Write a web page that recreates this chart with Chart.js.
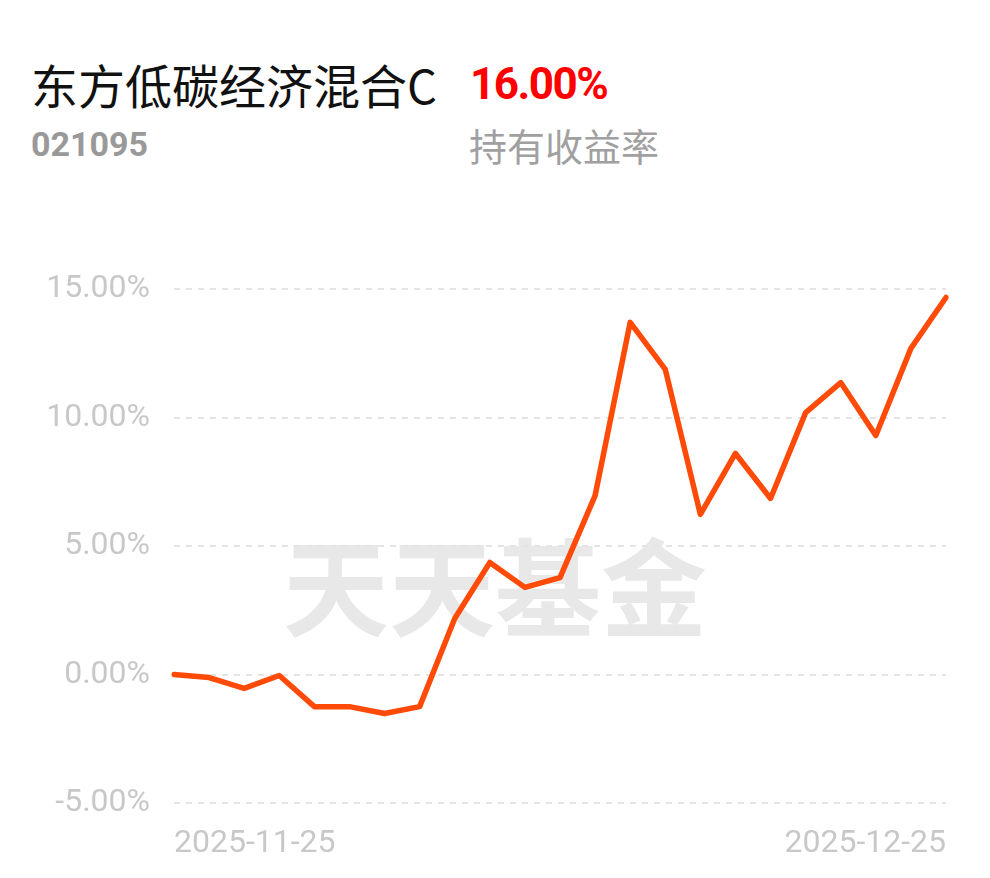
<!DOCTYPE html>
<html>
<head>
<meta charset="utf-8">
<script src="https://cdn.jsdelivr.net/npm/chart.js@4"></script>
<style>
    html, body { margin: 0; padding: 0; background: #fff; }
    #wrap { position: relative; width: 990px; height: 878px; overflow: hidden; }
    #chart { position: absolute; left: 0; top: 0; z-index: 2; }
    .txt { position: absolute; white-space: nowrap; font-family: Roboto, "Noto Sans CJK SC", sans-serif; }
    #name { left: 31px; top: 49px; font-size: 47px; color: #111; font-family: "Noto Sans CJK SC", sans-serif; }
    #ret { left: 470px; top: 58px; font-size: 44px; font-weight: bold; color: #f00; letter-spacing: -1.5px; }
    #code { left: 31px; top: 124px; font-size: 34px; font-weight: bold; color: #999; }
    #retLabel { left: 469px; top: 117px; font-size: 38px; color: #a0a0a0; font-family: "Noto Sans CJK SC", sans-serif; }
    #mark { left: 283px; top: 505px; font-size: 106px; font-weight: 700; color: #e8e8e8; z-index: 1; font-family: "Noto Sans CJK SC", sans-serif; }
</style>
</head>
<body>
<div id="wrap">
    <div class="txt" id="name">东方低碳经济混合C</div>
    <div class="txt" id="ret">16.00%</div>
    <div class="txt" id="code">021095</div>
    <div class="txt" id="retLabel">持有收益率</div>
    <div class="txt" id="mark">天天基金</div>
    <canvas id="chart" width="990" height="878"></canvas>
</div>
<script>
// trading days shown on the x axis
const dates = [
    '2025-11-25', '2025-11-26', '2025-11-27', '2025-11-28',
    '2025-12-01', '2025-12-02', '2025-12-03', '2025-12-04', '2025-12-05',
    '2025-12-08', '2025-12-09', '2025-12-10', '2025-12-11', '2025-12-12',
    '2025-12-15', '2025-12-16', '2025-12-17', '2025-12-18', '2025-12-19',
    '2025-12-22', '2025-12-23', '2025-12-24', '2025-12-25'
];

// holding return, percent
const holdingReturn = [
    0.00, -0.12, -0.54, -0.04, -1.25, -1.25, -1.52, -1.25, 2.18,
    4.36, 3.39, 3.77, 6.96, 13.70, 11.87, 6.23, 8.60, 6.85,
    10.19, 11.36, 9.30, 12.69, 14.67
];

const yTicks = [-5, 0, 5, 10, 15];

const tickFont = { family: 'Roboto', size: 32 };

new Chart(document.getElementById('chart'), {
    type: 'line',
    data: {
        labels: dates,
        datasets: [{
            data: holdingReturn,
            borderColor: '#ff4a08',
            borderWidth: 5.5,
            borderJoinStyle: 'round',
            borderCapStyle: 'round',
            pointRadius: 0,
            tension: 0,
            fill: false
        }]
    },
    options: {
        responsive: false,
        animation: false,
        layout: { padding: { left: 0, right: 44, top: 289, bottom: 0 } },
        plugins: {
            legend: { display: false },
            tooltip: { enabled: false }
        },
        scales: {
            x: {
                grid: { display: false, drawTicks: false },
                border: { display: false },
                afterFit: scale => { scale.height = 75; },
                ticks: {
                    autoSkip: false,
                    maxRotation: 0,
                    align: 'inner',
                    padding: 22,
                    color: '#c8c8c8',
                    font: tickFont,
                    callback: function(value, index) {
                        return (index === 0 || index === dates.length - 1) ? dates[index] : '';
                    }
                }
            },
            y: {
                min: yTicks[0],
                max: yTicks[yTicks.length - 1],
                afterFit: scale => { scale.width = 174; },
                afterBuildTicks: scale => { scale.ticks = yTicks.map(v => ({ value: v })); },
                grid: {
                    color: '#e4e4e4',
                    lineWidth: 2,
                    drawTicks: false
                },
                border: { display: false, dash: [6, 6] },
                ticks: {
                    padding: 24,
                    color: '#c8c8c8',
                    font: tickFont,
                    callback: v => v.toFixed(2) + '%'
                }
            }
        }
    }
});
</script>
</body>
</html>
